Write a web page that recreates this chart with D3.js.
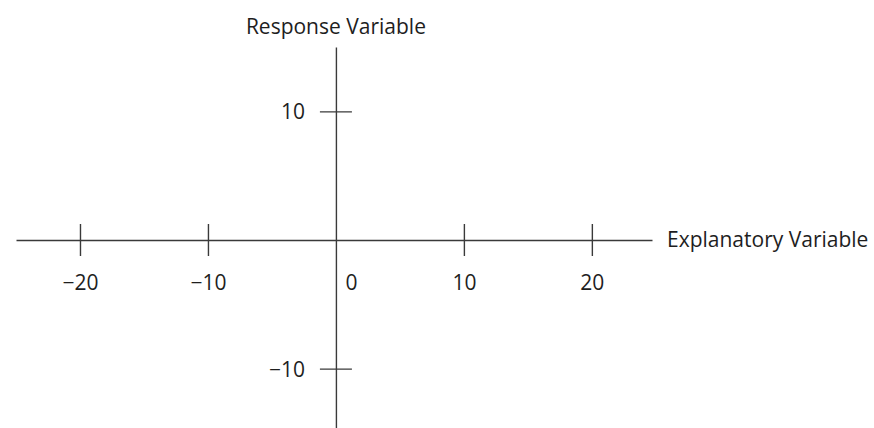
<!DOCTYPE html>
<html>
<head>
<meta charset="utf-8">
<script src="https://cdn.jsdelivr.net/npm/d3@7"></script>
<style>
  body { margin: 0; background: #fff; }
  svg text { font-family: "Open Sans", "Noto Sans", sans-serif; fill: #1e1e1e; }
</style>
</head>
<body>
<article></article>
<script>
const m = {
    width: 874,
    height: 428
}

// axis extents and ticks
const xDomain = [-25, 24.7]
const yDomain = [-15, 15]
const xTicks = [-20, -10, 0, 10, 20]
const yTicks = [-10, 10]
const xTitle = 'Explanatory Variable'
const yTitle = 'Response Variable'

const svg = d3.select('article').append('svg')
    .attr('width', m.width)
    .attr('height', m.height)

const x = d3.scaleLinear()
    .domain(xDomain)
    .range([16, 652])

const y = d3.scaleLinear()
    .domain(yDomain)
    .range([433, 47])

const ink = '#3a3a3a'
const fs = 21

// horizontal axis through y = 0
const gx = svg.append('g')
    .attr('transform', 'translate(0,' + y(0) + ')')
    .call(d3.axisBottom(x).tickValues(xTicks).tickSize(16).tickSizeOuter(0).tickPadding(0))

gx.select('.domain').attr('stroke', ink).attr('stroke-width', 1.4)
gx.selectAll('.tick line')
    .attr('y1', -16)
    .attr('y2', 16)
    .attr('stroke', ink)
    .attr('stroke-width', 1.4)
    .attr('display', d => d === 0 ? 'none' : null)
gx.selectAll('.tick text')
    .attr('font-size', fs)
    .attr('fill', '#1e1e1e')
    .attr('y', 43)
    .attr('dy', '0.35em')
    .attr('x', d => d === 0 ? 15 : 0)
    .text(d => d < 0 ? '\u2212' + Math.abs(d) : d)

// vertical axis through x = 0
const gy = svg.append('g')
    .attr('transform', 'translate(' + x(0) + ',0)')
    .call(d3.axisLeft(y).tickValues(yTicks).tickSize(16).tickSizeOuter(0).tickPadding(0))

gy.select('.domain').attr('stroke', ink).attr('stroke-width', 1.4)
gy.selectAll('.tick line')
    .attr('x1', -16)
    .attr('x2', 16)
    .attr('stroke', ink)
    .attr('stroke-width', 1.4)
gy.selectAll('.tick text')
    .attr('font-size', fs)
    .attr('fill', '#1e1e1e')
    .attr('x', -31)
    .attr('dy', '0.35em')
    .text(d => d < 0 ? '\u2212' + Math.abs(d) : d)

// axis titles
svg.append('text')
    .attr('x', x(0))
    .attr('y', 34)
    .attr('text-anchor', 'middle')
    .attr('font-size', fs)
    .text(yTitle)

svg.append('text')
    .attr('x', 667)
    .attr('y', y(0))
    .attr('dy', '0.35em')
    .attr('font-size', fs)
    .text(xTitle)
</script>
</body>
</html>
